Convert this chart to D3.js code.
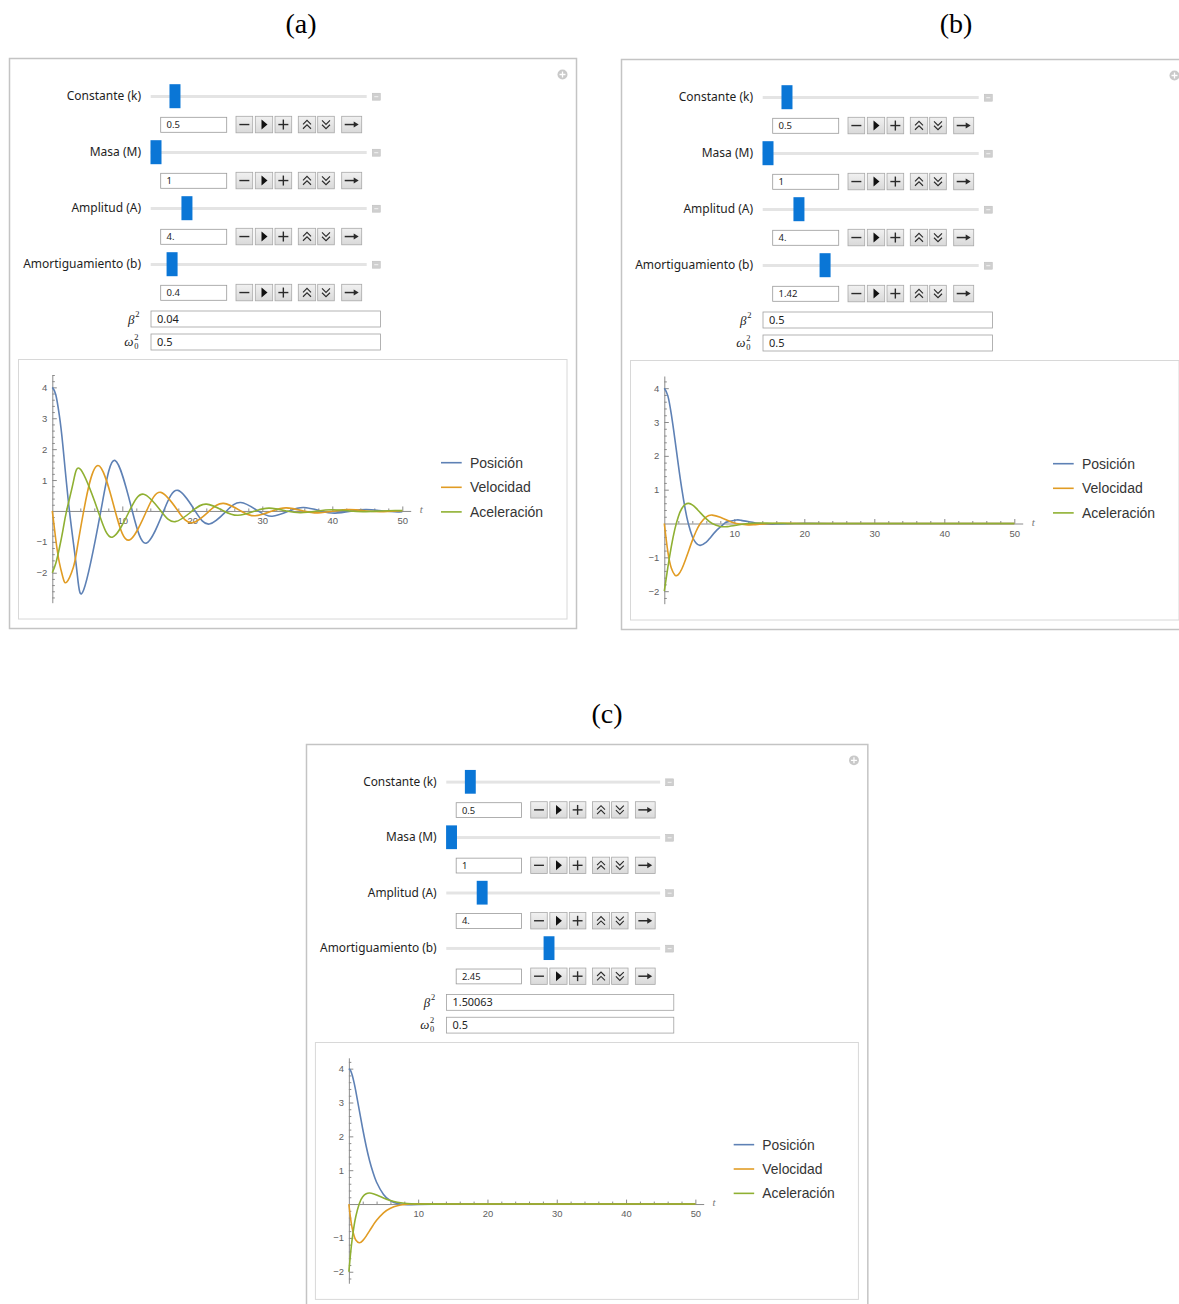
<!DOCTYPE html>
<html>
<head>
<meta charset="utf-8">
<script src="https://cdn.jsdelivr.net/npm/d3@7"></script>
<style>
  body { margin: 0; background: #fff; }
  svg { display: block; }
  .ctl { font-family: "Noto Sans", sans-serif; fill: #1e1e1e; }
  .tick text { font-family: "Liberation Sans", Arial, sans-serif; font-size: 9.5px; fill: #606060; }
  .tick line, .domain { stroke: #8a8a8a; }
</style>
</head>
<body>
<svg id="fig" width="1179" height="1304"></svg>
<script>

// ---- values ----
var captions = ["(a)", "(b)", "(c)"];
var sliderLabels = ["Constante (k)", "Masa (M)", "Amplitud (A)", "Amortiguamiento (b)"];
var sliderRanges = [[0, 5.4], [1, 10], [0, 26.5], [0, 5.1]];
var sliderValuesA = [0.5, 1, 4, 0.4];
var sliderValuesB = [0.5, 1, 4, 1.42];
var sliderValuesC = [0.5, 1, 4, 2.45];
var fieldTextA = ["0.5", "1", "4.", "0.4"];
var fieldTextB = ["0.5", "1", "4.", "1.42"];
var fieldTextC = ["0.5", "1", "4.", "2.45"];
var beta2Text = ["0.04", "0.5", "1.50063"];
var omega2Text = ["0.5", "0.5", "0.5"];
var legendLabels = ["Posición", "Velocidad", "Aceleración"];
var seriesColors = ["#5e81b5", "#e19c24", "#8fb032"];
var xTicks = [10, 20, 30, 40, 50];
var yTicks = [-2, -1, 1, 2, 3, 4];
var yRangeA = [-2.97, 4.40], yRangeB = [-2.37, 4.36], yRangeC = [-2.34, 4.32];

// (a) b = 0.4
var posA = [[0,4],[0.5,3.761],[1,3.101],[1.5,2.140],[2.447,0],[3.5,-1.914],[4.488,-2.554],[6.935,0],[8.976,1.630],
  [11.423,0],[13.464,-1.041],[15.911,0],[17.952,0.665],[20.399,0],[22.44,-0.424],[24.887,0],[26.928,0.271],
  [29.375,0],[31.416,-0.173],[33.863,0],[35.904,0.110],[38.351,0],[40.392,-0.071],[42.839,0],[44.88,0.045],
  [47.327,0],[49.368,-0.029],[50,-0.026]];
var velA = [[0,0],[0.5,-0.932],[1,-1.665],[1.5,-2.133],[2.041,-2.306],[3,-1.827],[3.5,-1.284],[4.488,0],[6.529,1.472],
  [8.976,0],[11.017,-0.940],[13.464,0],[15.505,0.600],[17.952,0],[19.993,-0.383],[22.44,0],[24.481,0.245],
  [26.928,0],[28.969,-0.156],[31.416,0],[33.457,0.100],[35.904,0],[37.945,-0.064],[40.392,0],[42.433,0.041],
  [44.88,0],[46.921,-0.026],[49.368,0],[50,0.008]];
var accA = [[0,-2],[0.5,-1.694],[1,-1.217],[1.5,-0.643],[2.041,0],[3,0.931],[4.083,1.330],[6.529,0],[8.571,-0.849],
  [11.017,0],[13.059,0.542],[15.505,0],[17.547,-0.346],[19.993,0],[22.035,0.221],[24.481,0],[26.523,-0.141],
  [28.969,0],[31.011,0.090],[33.457,0],[35.499,-0.057],[37.945,0],[39.987,0.037],[42.433,0],[44.475,-0.023],
  [46.921,0],[48.963,0.015],[50,0.011]];

// (b) b = 1.42
var posB = [[0,4],[0.5,3.780],[1,3.231],[1.5,2.511],[2,1.741],[2.5,1.024],[3,0.413],[3.429,0],[4,-0.383],[4.5,-0.569],
  [5.137,-0.646],[6,-0.549],[6.5,-0.439],[7.5,-0.196],[8.566,0],[9,0.049],[10.274,0.104],[11,0.093],[12,0.056],
  [13.7,0],[15.41,-0.017],[18.84,0],[20.55,0.003],[25,0],[30,0],[40,0],[50,0]];
var velB = [[0,0],[0.5,-0.825],[1,-1.316],[1.5,-1.524],[1.708,-1.542],[2,-1.512],[2.5,-1.345],[3,-1.088],[3.5,-0.795],
  [4,-0.506],[4.5,-0.252],[5.137,0],[6,0.196],[6.845,0.249],[8,0.188],[9,0.095],[10.274,0],[11.982,-0.040],
  [13,-0.032],[15.41,0],[17.12,0.007],[20,0],[25,0],[30,0],[40,0],[50,0]];
var accB = [[0,-2],[0.5,-1.305],[1,-0.681],[1.5,-0.174],[2,0.203],[2.5,0.443],[3,0.566],[3.5,0.594],[4,0.551],
  [4.5,0.464],[5.137,0.323],[6,0.136],[6.845,0],[8,-0.088],[8.6,-0.096],[9,-0.092],[10.274,-0.052],[11.98,0],
  [13.73,0.016],[15.41,0.008],[18,0],[20,0],[25,0],[30,0],[40,0],[50,0]];

// (c) b = 2.45
var posC = [[0,4],[0.25,3.943],[0.5,3.797],[0.75,3.586],[1,3.335],[1.5,2.776],[2,2.217],[2.5,1.708],[3,1.274],
  [3.5,0.922],[4,0.645],[5,0.282],[6,0.097],[7,0.016],[8,-0.012],[9,-0.017],[10,-0.014],[12,-0.005],[15,0],
  [20,0],[30,0],[40,0],[50,0]];
var velC = [[0,0],[0.25,-0.428],[0.5,-0.733],[0.75,-0.937],[1,-1.062],[1.5,-1.142],[2,-1.080],[2.5,-0.946],
  [3,-0.786],[3.5,-0.627],[4,-0.482],[5,-0.260],[6,-0.123],[7,-0.048],[8,-0.013],[9,0.001],[10,0.005],[12,0.003],
  [15,0],[20,0],[30,0],[40,0],[50,0]];
var accC = [[0,-2],[0.25,-1.447],[0.5,-1.001],[0.75,-0.646],[1,-0.367],[1.5,0.011],[2,0.215],[2.5,0.305],[3,0.325],
  [3.5,0.307],[4,0.268],[5,0.177],[6,0.102],[7,0.051],[8,0.022],[9,0.008],[10,0.001],[12,-0.001],[15,0],
  [20,0],[30,0],[40,0],[50,0]];

var panels = [
  {x: 9, y: 58, s: 1, capX: 301, capY: 23, sliders: sliderValuesA, fields: fieldTextA, beta: beta2Text[0], omega: omega2Text[0], yDom: yRangeA, series: [posA, velA, accA]},
  {x: 621, y: 59, s: 1, capX: 956, capY: 23, sliders: sliderValuesB, fields: fieldTextB, beta: beta2Text[1], omega: omega2Text[1], yDom: yRangeB, series: [posB, velB, accB]},
  {x: 306, y: 744, s: 0.99, capX: 607, capY: 713, sliders: sliderValuesC, fields: fieldTextC, beta: beta2Text[2], omega: omega2Text[2], yDom: yRangeC, series: [posC, velC, accC]}
];

var svg = d3.select("#fig");

var defs = svg.append("defs");
var grad = defs.append("linearGradient").attr("id", "btn").attr("x1", 0).attr("y1", 0).attr("x2", 0).attr("y2", 1);
grad.append("stop").attr("offset", "0%").attr("stop-color", "#f1f1f1");
grad.append("stop").attr("offset", "100%").attr("stop-color", "#d9d9d9");

// buttons next to each input field: [left, width, glyph]
var buttonSpec = [[227, 16.7, "minus"], [246.3, 17.4, "play"], [266, 16.7, "plus"],
                  [289.3, 17.4, "up"], [308.7, 16.6, "down"], [332.7, 20, "arrow"]];

function drawGlyph(g, kind, cx, cy) {
    var st = "#2a2a2a";
    if (kind == "minus") {
        g.append("line").attr("x1", cx - 5).attr("x2", cx + 5).attr("y1", cy).attr("y2", cy).attr("stroke", st).attr("stroke-width", 1.4);
    } else if (kind == "plus") {
        g.append("line").attr("x1", cx - 5).attr("x2", cx + 5).attr("y1", cy).attr("y2", cy).attr("stroke", st).attr("stroke-width", 1.4);
        g.append("line").attr("x1", cx).attr("x2", cx).attr("y1", cy - 5).attr("y2", cy + 5).attr("stroke", st).attr("stroke-width", 1.4);
    } else if (kind == "play") {
        g.append("path").attr("d", "M" + (cx - 2.5) + "," + (cy - 5) + "L" + (cx + 3.5) + "," + cy + "L" + (cx - 2.5) + "," + (cy + 5) + "Z").attr("fill", "#111");
    } else if (kind == "up" || kind == "down") {
        var d = kind == "up" ? 1 : -1;
        [-2.2, 2.2].forEach(function (o) {
            g.append("path")
                .attr("d", "M" + (cx - 4) + "," + (cy + o + 2 * d) + "L" + cx + "," + (cy + o - 2 * d) + "L" + (cx + 4) + "," + (cy + o + 2 * d))
                .attr("fill", "none").attr("stroke", st).attr("stroke-width", 1.1);
        });
    } else if (kind == "arrow") {
        g.append("line").attr("x1", cx - 7).attr("x2", cx + 4).attr("y1", cy).attr("y2", cy).attr("stroke", st).attr("stroke-width", 1.5);
        g.append("path").attr("d", "M" + (cx + 2) + "," + (cy - 3) + "L" + (cx + 7) + "," + cy + "L" + (cx + 2) + "," + (cy + 3) + "Z").attr("fill", st);
    }
}

function drawPanel(p) {
    var g = svg.append("g").attr("transform", "translate(" + p.x + "," + p.y + ") scale(" + p.s + ")");

    g.append("rect").attr("x", 0.5).attr("y", 0.5).attr("width", 567).attr("height", 570)
        .attr("fill", "#fff").attr("stroke", "#c4c4c4").attr("stroke-width", 1.5);

    // little "+" circle at top right
    g.append("circle").attr("cx", 553.5).attr("cy", 16.5).attr("r", 5).attr("fill", "#c9c9c9");
    g.append("path").attr("d", "M550.5,16.5H556.5M553.5,13.5V19.5").attr("stroke", "#fff").attr("stroke-width", 1.3);

    sliderLabels.forEach(function (lab, i) {
        var ry = 38.4 + 56 * i;
        var sx = d3.scaleLinear().domain(sliderRanges[i]).range([147, 352]);

        g.append("text").attr("class", "ctl").attr("x", 132).attr("y", ry + 4)
            .attr("text-anchor", "end").style("font-size", "12px").text(lab);

        g.append("rect").attr("x", 141.7).attr("y", ry - 1.4).attr("width", 216).attr("height", 3)
            .attr("fill", "#e4e4e4");
        g.append("rect").attr("x", 363.3).attr("y", ry - 3.2).attr("width", 8).attr("height", 7)
            .attr("fill", "#cfcfcf").attr("stroke", "#bcbcbc").attr("stroke-width", 0.5);
        g.append("line").attr("x1", 365.3).attr("x2", 369.3).attr("y1", ry + 0.3).attr("y2", ry + 0.3)
            .attr("stroke", "#f2f2f2").attr("stroke-width", 1);
        g.append("rect").attr("x", sx(p.sliders[i]) - 5.5).attr("y", ry - 12.2).attr("width", 11).attr("height", 24)
            .attr("fill", "#0a76d6");

        var fy = ry + 20.9;
        g.append("rect").attr("x", 151.7).attr("y", fy).attr("width", 66).attr("height", 15)
            .attr("fill", "#fff").attr("stroke", "#9a9a9a").attr("stroke-width", 0.8);
        g.append("text").attr("class", "ctl").attr("x", 157.5).attr("y", fy + 11)
            .style("font-size", "9.5px").text(p.fields[i]);

        buttonSpec.forEach(function (b) {
            var bg = g.append("g");
            bg.append("rect").attr("x", b[0]).attr("y", fy - 1).attr("width", b[1]).attr("height", 16.5)
                .attr("fill", "url(#btn)").attr("stroke", "#a8a8a8").attr("stroke-width", 0.8);
            drawGlyph(bg, b[2], b[0] + b[1] / 2, fy + 7.25);
        });
    });

    // beta^2 and omega_0^2 rows
    var serif = "'Liberation Serif', 'DejaVu Serif', serif";
    g.append("text").attr("x", 125.5).attr("y", 265.5).attr("text-anchor", "end")
        .style("font-family", serif).style("font-style", "italic").style("font-size", "13px").attr("fill", "#222").text("β");
    g.append("text").attr("x", 126.3).attr("y", 259).style("font-family", serif).style("font-size", "8.5px").attr("fill", "#222").text("2");
    g.append("text").attr("x", 124.5).attr("y", 287.5).attr("text-anchor", "end")
        .style("font-family", serif).style("font-style", "italic").style("font-size", "13px").attr("fill", "#222").text("ω");
    g.append("text").attr("x", 125.3).attr("y", 282).style("font-family", serif).style("font-size", "8.5px").attr("fill", "#222").text("2");
    g.append("text").attr("x", 125.3).attr("y", 291).style("font-family", serif).style("font-size", "8.5px").attr("fill", "#222").text("0");

    [[253, p.beta], [276, p.omega]].forEach(function (r) {
        g.append("rect").attr("x", 142).attr("y", r[0]).attr("width", 229.5).attr("height", 16)
            .attr("fill", "#fff").attr("stroke", "#a0a0a0").attr("stroke-width", 0.8);
        g.append("text").attr("class", "ctl").attr("x", 148).attr("y", r[0] + 12)
            .style("font-size", "11px").text(r[1]);
    });

    // plot frame
    g.append("rect").attr("x", 9.5).attr("y", 301.5).attr("width", 548.5).attr("height", 259.5)
        .attr("fill", "#fff").attr("stroke", "#d8d8d8").attr("stroke-width", 1);

    var x = d3.scaleLinear().domain([0, 51.2]).range([43.3, 401.7]);
    var y = d3.scaleLinear().domain(p.yDom).range([544.7, 317]);

    var minorX = d3.range(2, 51, 2).filter(function (v) { return v % 10 != 0; });
    var minorY = d3.range(Math.ceil(p.yDom[0] * 5), Math.floor(p.yDom[1] * 5) + 1)
        .filter(function (v) { return v % 5 != 0; }).map(function (v) { return v / 5; });

    var plot = g.append("g");

    plot.append("g").attr("transform", "translate(0," + y(0) + ")")
        .call(d3.axisBottom(x).tickValues(minorX).tickFormat("").tickSizeInner(-2.5).tickSizeOuter(0))
        .call(function (a) { a.select(".domain").remove(); });
    plot.append("g").attr("transform", "translate(" + x(0) + ",0)")
        .call(d3.axisLeft(y).tickValues(minorY).tickFormat("").tickSizeInner(-2.5).tickSizeOuter(0))
        .call(function (a) { a.select(".domain").remove(); });

    plot.append("g").attr("transform", "translate(0," + y(0) + ")")
        .call(d3.axisBottom(x).tickValues(xTicks).tickSizeInner(-4.5).tickSizeOuter(0).tickPadding(6.5));
    plot.append("g").attr("transform", "translate(" + x(0) + ",0)")
        .call(d3.axisLeft(y).tickValues(yTicks).tickSizeInner(-4.5).tickSizeOuter(0).tickPadding(5)
            .tickFormat(function (d) { return d < 0 ? "\u2212" + (-d) : d; }));

    plot.selectAll(".domain").attr("stroke-width", 1);

    plot.append("text").attr("x", x(51.2) + 9).attr("y", y(0) + 2)
        .style("font-family", serif).style("font-style", "italic").style("font-size", "11px")
        .attr("fill", "#777").text("t");

    var line = d3.line()
        .x(function (d) { return x(d[0]); })
        .y(function (d) { return y(d[1]); })
        .curve(d3.curveNatural);

    p.series.forEach(function (s, i) {
        plot.append("path").attr("d", line(s)).attr("fill", "none")
            .attr("stroke", seriesColors[i]).attr("stroke-width", 1.6);
    });

    legendLabels.forEach(function (lab, i) {
        var ly = 404.7 + 24.6 * i;
        g.append("line").attr("x1", 432).attr("x2", 452.7).attr("y1", ly).attr("y2", ly)
            .attr("stroke", seriesColors[i]).attr("stroke-width", 1.6);
        g.append("text").attr("x", 461).attr("y", ly + 5)
            .style("font-family", "'Liberation Sans', Arial, sans-serif").style("font-size", "14px")
            .attr("fill", "#353535").text(lab);
    });
}

panels.forEach(function (p, i) {
    drawPanel(p);
    svg.append("text").attr("x", p.capX).attr("y", p.capY).attr("text-anchor", "middle")
        .attr("dominant-baseline", "central")
        .style("font-family", "'Liberation Serif', 'Times New Roman', serif").style("font-size", "28px")
        .attr("fill", "#000").text(captions[i]);
});

</script>
</body>
</html>
